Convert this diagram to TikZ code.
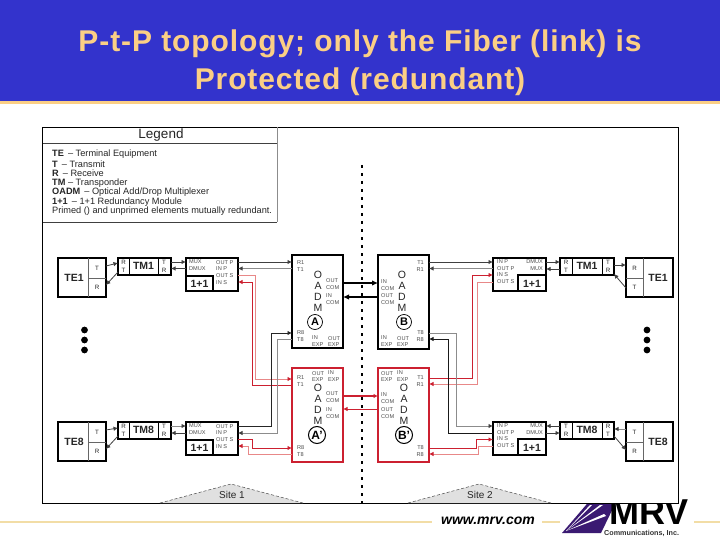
\documentclass[tikz,border=0pt]{standalone}
\usepackage{fontspec}
\setmainfont{Liberation Sans}
\usetikzlibrary{arrows.meta}
\definecolor{headblue}{HTML}{3333CC}
\definecolor{headgold}{HTML}{FBCF85}
\definecolor{linegold}{HTML}{F2DDA6}
\definecolor{protred}{HTML}{CC2030}
\definecolor{protpink}{HTML}{E88888}
\definecolor{logopurple}{HTML}{3A1A72}
\tikzset{
  heavybox/.style={draw=black, line width=2.3pt, fill=white, inner sep=0pt},
  redbox/.style={draw=protred, line width=2.6pt, fill=white, inner sep=0pt},
  cell/.style={draw=black!60, line width=0.6pt},
  heavycell/.style={draw=black, line width=1.8pt},
  tinylbl/.style={align=left, anchor=west, inner sep=0pt, text=black!70, font=\fontsize{5.6}{6.9}\selectfont},
  tinylblr/.style={tinylbl, align=right, anchor=east},
  legendlbl/.style={anchor=west, inner sep=0pt, text=black!85, font=\fontsize{9.2}{10}\selectfont},
  oadmlbl/.style={align=center, inner sep=0pt, text=black!85, font=\fontsize{10.5}{11}\selectfont},
  celltxt/.style={align=center, inner sep=0pt, text=black!85, font=\fontsize{6.2}{8}\selectfont},
  bigtxt/.style={inner sep=0pt, font=\fontsize{10.5}{12}\selectfont\bfseries, text=black!85},
  circ/.style={circle, draw=black, line width=0.7pt, minimum size=15pt, inner sep=0pt, font=\fontsize{11}{12}\selectfont\bfseries},
  primecirc/.style={circ, line width=1pt, minimum size=17pt, font=\fontsize{12}{13}\selectfont\bfseries},
  link/.style={draw=black!75, line width=0.8pt, -{Latex[length=4.5pt,width=4.5pt]}},
  linklight/.style={link, draw=black!45, arrows={-{Latex[length=4.5pt,width=4.5pt,black!75]}}},
  trunk/.style={draw=black, line width=1.5pt, -{Latex[length=6pt,width=5.5pt]}},
  redlink/.style={draw=protred, line width=0.9pt, -{Latex[length=4.5pt,width=4.5pt]}},
  pinklink/.style={draw=protpink, line width=0.8pt, arrows={-{Latex[length=4.5pt,width=4.5pt,protred]}}},
  sitetri/.style={draw=black!70, densely dashed, line width=0.5pt, fill=black!12},
}
\begin{document}
\begin{tikzpicture}[x=1pt, y=-1pt]
  \useasboundingbox (0,0) rectangle (720,540);
  % Title band
  \fill[headblue] (0,0) rectangle (720,101);
  \fill[headgold] (0,101) rectangle (720,104);
  \node[align=center, inner sep=0pt, text=headgold, font=\fontsize{30}{37.5}\selectfont\bfseries\addfontfeature{LetterSpace=3}] (title) at (360,62.5)
    {P-t-P topology; only the Fiber (link) is\\Protected (redundant)};
  % Footer and logo
  \draw[linegold, line width=2pt] (0,522) -- (432,522);
  \draw[linegold, line width=2pt] (542,522) -- (560,522);
  \draw[linegold, line width=2pt] (694,522) -- (720,522);
  \node[inner sep=0pt, font=\fontsize{14}{15}\selectfont\bfseries\itshape] (web) at (488,520.5) {www.mrv.com};
  \fill[logopurple] (562,533) -- (592,498) -- (618,498) -- (601,533) -- cycle;
  \fill[white] (566,531) -- (600,505) -- (603,505) -- cycle;
  \fill[white] (566,531) -- (590,505) -- (592,505) -- cycle;
  \fill[white] (566,531) -- (604,514) -- (606,516) -- cycle;
  \node[inner sep=0pt, anchor=base west, font=\fontsize{36}{36}\selectfont\bfseries] (mrv) at (609,524) {MRV};
  \node[inner sep=0pt, anchor=base west, font=\fontsize{7.2}{8}\selectfont\bfseries, text=black!80] (inc) at (604,535.5) {Communications, Inc.};
  % Outer frame
  \draw[fill=white, line width=0.8pt] (42.5,127) rectangle (678,503);
  % Legend
  \draw[black!45, line width=0.7pt] (277,127) -- (277,222);
  \draw[black!75, line width=0.7pt] (42.5,143) -- (277,143);
  \draw[black!75, line width=0.7pt] (42.5,222) -- (277,222);
  \node[inner sep=0pt, text=black!85, font=\fontsize{13.5}{14}\selectfont] (legend) at (161,135.5) {Legend};
  \node[legendlbl] (lg1) at (52,154) {\textbf{TE} \,-- Terminal Equipment};
  \node[legendlbl] (lg2) at (52,164) {\textbf{T} \,-- Transmit};
  \node[legendlbl] (lg3) at (52,173.5) {\textbf{R} \,-- Receive};
  \node[legendlbl] (lg4) at (52,183) {\textbf{TM} -- Transponder};
  \node[legendlbl] (lg5) at (52,192.5) {\textbf{OADM} \,-- Optical Add/Drop Multiplexer};
  \node[legendlbl] (lg6) at (52,202) {\textbf{1+1} \,-- 1+1 Redundancy Module};
  \node[legendlbl] (lg7) at (52,211.5) {Primed () and unprimed elements mutually redundant.};
  % Site line and site marks
  \draw[black, line width=2.4pt, dash pattern=on 3pt off 5pt] (362,165) -- (362,503);
  \draw[sitetri] (160,503) -- (231,484) -- (303,503);
  \draw[sitetri] (408,503) -- (479,484) -- (551,503);
  \node[inner sep=0pt, text=black!85, font=\fontsize{10}{11}\selectfont] (site1) at (232,494.5) {Site 1};
  \node[inner sep=0pt, text=black!85, font=\fontsize{10}{11}\selectfont] (site2) at (480,494.5) {Site 2};
  % Boxes
  \node[heavybox, minimum width=48pt, minimum height=39pt] (te1l) at (82,277.5) {};
  \node[heavybox, minimum width=48pt, minimum height=39pt] (te8l) at (82,441.5) {};
  \node[heavybox, minimum width=47pt, minimum height=39pt] (te1r) at (649.5,277.5) {};
  \node[heavybox, minimum width=47pt, minimum height=39pt] (te8r) at (649.5,441.5) {};
  \node[heavybox, minimum width=53pt, minimum height=17pt] (tm1l) at (144.5,266.5) {};
  \node[heavybox, minimum width=53pt, minimum height=17pt] (tm8l) at (144.5,430.5) {};
  \node[heavybox, minimum width=54pt, minimum height=17pt] (tm1r) at (587,266.5) {};
  \node[heavybox, minimum width=54pt, minimum height=17pt] (tm8r) at (587,430.5) {};
  \node[heavybox, minimum width=52pt, minimum height=33pt] (mod1l) at (212,274.5) {};
  \node[heavybox, minimum width=52pt, minimum height=33pt] (mod8l) at (212,438.5) {};
  \node[heavybox, minimum width=53pt, minimum height=33pt] (mod1r) at (519.5,274.5) {};
  \node[heavybox, minimum width=53pt, minimum height=33pt] (mod8r) at (519.5,438.5) {};
  \node[heavybox, minimum width=51pt, minimum height=93pt] (oadma) at (317.5,301.5) {};
  \node[heavybox, minimum width=51pt, minimum height=94pt] (oadmb) at (403.5,302) {};
  \node[redbox, minimum width=51pt, minimum height=94pt] (oadmap) at (317.5,415) {};
  \node[redbox, minimum width=51pt, minimum height=94pt] (oadmbp) at (403.5,415) {};
  % Cell dividers
  \foreach \y in {258,422} {
    \draw[cell] (88,\y) -- (88,\y+39);
    \draw[cell] (88,\y+20) -- (106,\y+20);
    \draw[cell] (643,\y) -- (643,\y+39);
    \draw[cell] (626,\y+20) -- (643,\y+20);
    \draw[heavycell, line width=1pt] (129,\y) -- (129,\y+17);
    \draw[heavycell, line width=1pt] (158,\y) -- (158,\y+17);
    \draw[heavycell, line width=1pt] (572,\y) -- (572,\y+17);
    \draw[heavycell, line width=1pt] (602,\y) -- (602,\y+17);
    \draw[heavycell] (186,\y+18) -- (213,\y+18) -- (213,\y+33);
    \draw[heavycell] (546,\y+17) -- (518,\y+17) -- (518,\y+33);
  }
  % Box texts
  \foreach \nm/\x/\y/\t in {tte1l/74/278/TE1, tte8l/74/442/TE8, tte1r/658/278/TE1, tte8r/658/442/TE8,
      ttm1l/143.5/266/TM1, ttm8l/143.5/430/TM8, ttm1r/587/266/TM1, ttm8r/587/430/TM8,
      one1l/199.5/283.5/1+1, one8l/199.5/447.5/1+1, one1r/532/283.5/1+1, one8r/532/447.5/1+1}
    \node[bigtxt] (\nm) at (\x,\y) {\t};
  \foreach \nm/\x/\y/\t in {ca/97/268/T, cb/97/287/R, cc/97/432/T, cd/97/451/R,
      ce/634.5/268/R, cf/634.5/287/T, cg/634.5/432/T, ch/634.5/451/R,
      ci/123.5/266.5/R\\T, cj/164/266.5/T\\R, ck/123.5/430.5/R\\T, cl/164/430.5/T\\R,
      cm/566/266.5/R\\T, cn/608/266.5/T\\R, co/566/430.5/T\\R, cp/608/430.5/R\\T}
    \node[celltxt] (\nm) at (\x,\y) {\t};
  % Module port texts
  \foreach \nm/\x/\y/\t in {la/189/265.5/MUX\\DMUX, lb/216/265.5/OUT P\\IN P, lc/216/279/OUT S\\IN S,
      ld/189/429.5/MUX\\DMUX, le/216/429.5/OUT P\\IN P, lf/216/443/OUT S\\IN S,
      lg/497/265.5/IN P\\OUT P, lh/497/278.5/IN S\\OUT S,
      li/497/429.5/IN P\\OUT P, lj/497/442.5/IN S\\OUT S}
    \node[tinylbl] (\nm) at (\x,\y) {\t};
  \foreach \nm/\x/\y/\t in {lk/543/265.5/DMUX\\MUX, ll/543/429.5/MUX\\DMUX}
    \node[tinylblr] (\nm) at (\x,\y) {\t};
  % OADM port texts
  \foreach \nm/\x/\y/\t in {pa/297/266.5/R1\\T1, pb/326/284.5/OUT\\COM, pc/326/299.5/IN\\COM, pd/297/336/R8\\T8,
      pe/312/341.5/IN\\EXP, pf/328/341.5/OUT\\EXP,
      pg/381/285/IN\\COM, ph/381/299.5/OUT\\COM, pi/381/341.5/IN\\EXP, pj/397/341.5/OUT\\EXP,
      pk/312/376.5/OUT\\EXP, pl/328/376.5/IN\\EXP, pm/297/381.5/R1\\T1, pn/326/397.5/OUT\\COM,
      po/326/413.5/IN\\COM, pp/297/451.5/R8\\T8,
      pq/381/376.5/OUT\\EXP, pr/397/376.5/IN\\EXP, ps/381/398/IN\\COM, pt/381/413.5/OUT\\COM}
    \node[tinylbl] (\nm) at (\x,\y) {\t};
  \foreach \nm/\x/\y/\t in {qa/424/266.5/T1\\R1, qb/424/336/T8\\R8, qc/424/381.5/T1\\R1, qd/424/451.5/T8\\R8}
    \node[tinylblr] (\nm) at (\x,\y) {\t};
  % OADM letters
  \node[oadmlbl] (oa) at (318,291) {O\\[0pt]A\\[0pt]D\\[0pt]M};
  \node[oadmlbl] (ob) at (402,291) {O\\[0pt]A\\[0pt]D\\[0pt]M};
  \node[oadmlbl] (oap) at (318,404) {O\\[0pt]A\\[0pt]D\\[0pt]M};
  \node[oadmlbl] (obp) at (404,404) {O\\[0pt]A\\[0pt]D\\[0pt]M};
  \node[circ] (ca1) at (315,322) {A};
  \node[circ] (cb1) at (404,322) {B};
  \node[primecirc] (ca2) at (317,435) {A'};
  \node[primecirc] (cb2) at (404,435) {B'};
  % Port points
  \foreach \nm/\x/\y in {te1la/106/266, te1lb/106/285, tm1la/118/263, tm1lb/118/272,
      tm1lc/171/262, tm1ld/171/268.5, m1la/186/262, m1lb/186/268.5,
      m1lc/238/262, m1ld/238/268.5, m1le/238/275, m1lf/238/282,
      aa/292/262, ab/292/268.5, ac/292/333, ad/292/339, ae/343/283, af/343/297,
      te8la/106/430, te8lb/106/449, tm8la/118/428, tm8lb/118/436,
      tm8lc/171/426, tm8ld/171/433, m8la/186/426, m8lb/186/433,
      m8lc/238/426, m8ld/238/433, m8le/238/439.5, m8lf/238/446,
      apa/292/379, apb/292/385, apc/292/448, apd/292/454, ape/343/396, apf/343/409,
      ba/429/262, bb/429/268.5, bc/429/333, bd/429/339, be/378/283, bf/378/297,
      bpa/429/378, bpb/429/384, bpc/429/448, bpd/429/454, bpe/378/396, bpf/378/409,
      m1ra/493/262, m1rb/493/268.5, m1rc/493/275, m1rd/493/282, m1re/546/262, m1rf/546/269,
      tm1ra/560/262, tm1rb/560/269, tm1rc/614/265, tm1rd/614/274, te1ra/626/265, te1rb/626/288,
      m8ra/493/426, m8rb/493/433, m8rc/493/439.5, m8rd/493/446, m8re/546/426, m8rf/546/433,
      tm8ra/560/426, tm8rb/560/433, tm8rc/614/429, tm8rd/614/436, te8ra/626/429, te8rb/626/450}
    \coordinate (\nm) at (\x,\y);
  % Left side links
  \draw[link] (te1la) -- (tm1la);
  \draw[link] (tm1lb) -- (te1lb);
  \draw[link] (tm1lc) -- (m1la);
  \draw[link] (m1lb) -- (tm1ld);
  \draw[link] (m1lc) -- (aa);
  \draw[linklight] (ab) -- (m1ld);
  \draw[link] (te8la) -- (tm8la);
  \draw[link] (tm8lb) -- (te8lb);
  \draw[linklight] (tm8lc) -- (m8la);
  \draw[link] (m8lb) -- (tm8ld);
  % Links between the sites
  \draw[trunk] (ae) -- (be);
  \draw[trunk] (bf) -- (af);
  \draw[redlink, line width=1.1pt] (ape) -- (bpe);
  \draw[redlink, line width=0.8pt] (bpf) -- (apf);
  % Right side links
  \draw[link] (ba) -- (m1ra);
  \draw[linklight] (m1rb) -- (bb);
  \draw[link] (m1re) -- (tm1ra);
  \draw[link] (tm1rb) -- (m1rf);
  \draw[link] (tm1rc) -- (te1ra);
  \draw[link] (te1rb) -- (tm1rd);
  \draw[link] (tm8ra) -- (m8re);
  \draw[link] (m8rf) -- (tm8rb);
  \draw[linklight] (te8ra) -- (tm8rc);
  \draw[link] (tm8rd) -- (te8rb);
  % Crossing links between rows
  \draw[pinklink] (m1le) -- ++(17,0) |- (apa);
  \draw[redlink] (apb) -- ++(-40,0) |- (m1lf);
  \draw[link, draw=black!85] (m8lc) -- ++(33,0) |- (ac);
  \draw[linklight] (ad) -- ++(-15,0) |- (m8ld);
  \draw[redlink] (m8le) -- ++(14,0) |- (apc);
  \draw[pinklink] (apd) -- ++(-44,0) |- (m8lf);
  \draw[redlink] (bpa) -- ++(43,0) |- (m1rc);
  \draw[pinklink] (m1rd) -- ++(-16,0) |- (bpb);
  \draw[linklight] (bc) -- ++(27,0) |- (m8ra);
  \draw[link, draw=black!90] (m8rb) -- ++(-45,0) |- (bd);
  \draw[redlink] (bpc) -- ++(47,0) |- (m8rc);
  \draw[pinklink] (m8rd) -- ++(-15,0) |- (bpd);
  % Ellipsis dots
  \foreach \x in {84.5,647} {
    \foreach \y in {330,340,350} {
      \fill[black] (\x,\y) circle (3.4pt);
    }
  }
\end{tikzpicture}
\end{document}
